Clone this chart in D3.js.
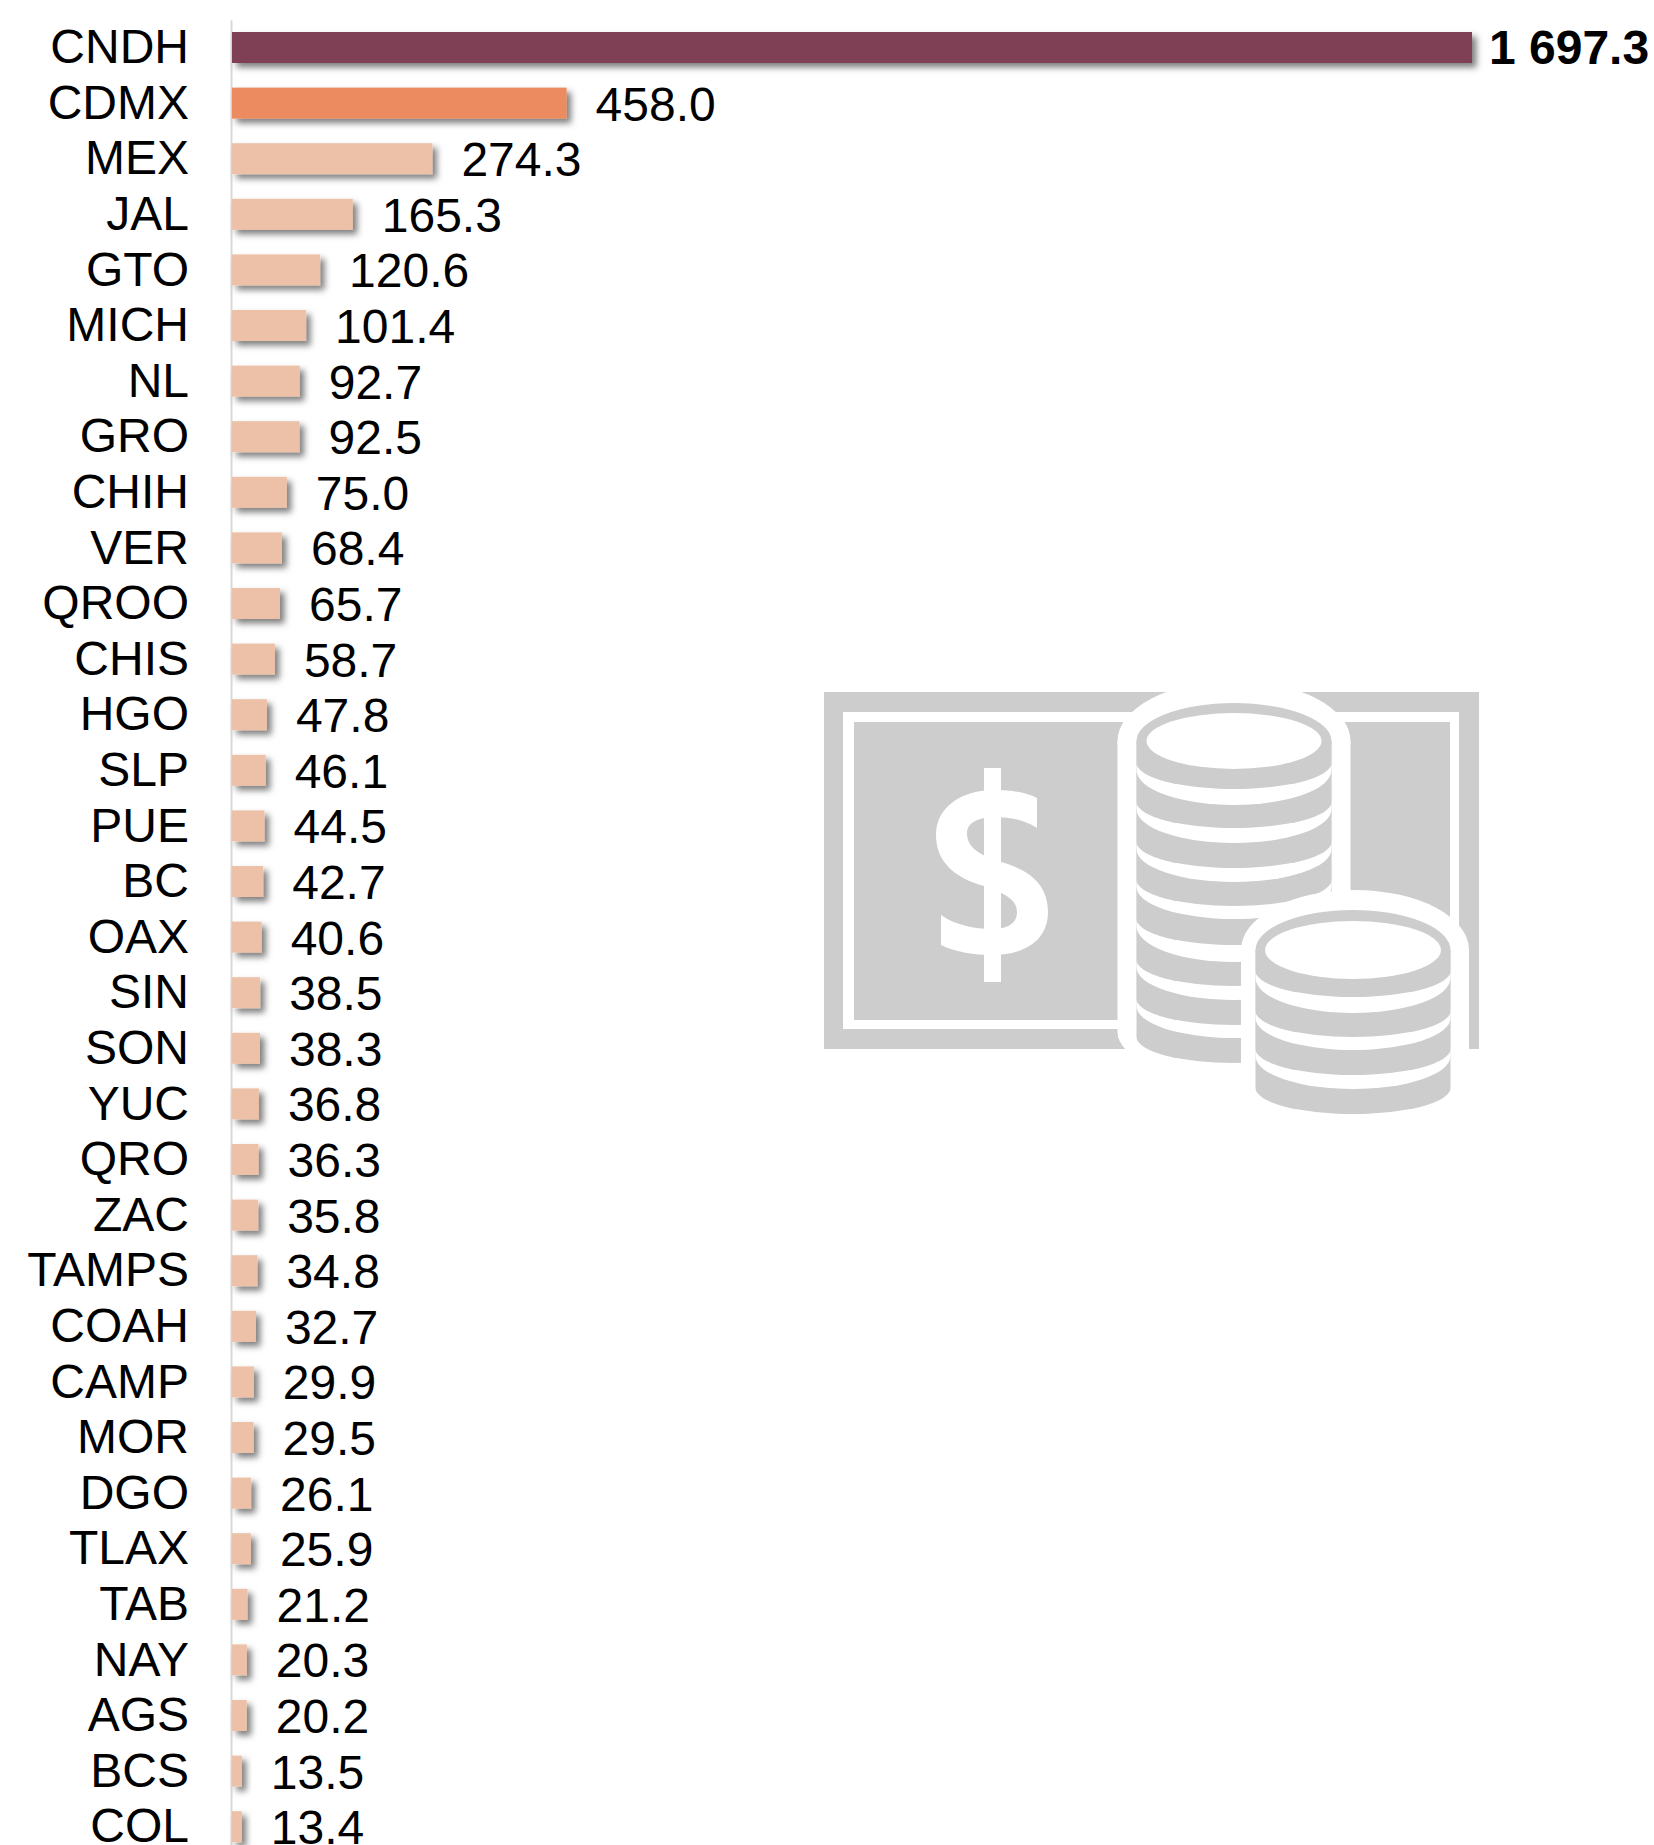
<!DOCTYPE html>
<html>
<head>
<meta charset="utf-8">
<script src="https://cdnjs.cloudflare.com/ajax/libs/d3/7.8.5/d3.min.js"></script>
<style>
html,body{margin:0;padding:0;background:#fff;overflow:hidden}
svg{display:block}
text{font-family:"Liberation Sans",Arial,sans-serif;fill:#000}
</style>
</head>
<body>
<svg id="chart" width="1654" height="1845"></svg>
<script>
const categories = ["CNDH","CDMX","MEX","JAL","GTO","MICH","NL","GRO","CHIH","VER","QROO","CHIS","HGO","SLP","PUE","BC","OAX","SIN","SON","YUC","QRO","ZAC","TAMPS","COAH","CAMP","MOR","DGO","TLAX","TAB","NAY","AGS","BCS","COL"];
const values = [1697.3,458.0,274.3,165.3,120.6,101.4,92.7,92.5,75.0,68.4,65.7,58.7,47.8,46.1,44.5,42.7,40.6,38.5,38.3,36.8,36.3,35.8,34.8,32.7,29.9,29.5,26.1,25.9,21.2,20.3,20.2,13.5,13.4];

const svg = d3.select("#chart");
const defs = svg.append("defs");
defs.append("filter").attr("id","shadow")
  .attr("x","-100%").attr("y","-60%").attr("width","300%").attr("height","220%")
  .append("feDropShadow")
  .attr("dx",4.5).attr("dy",4.5).attr("stdDeviation",3.2)
  .attr("flood-color","#000").attr("flood-opacity",0.5);

const step = 55.6, band = 31, pad = 1 - band/step;
const top0 = 47.5 - step/2;
const x = d3.scaleLinear().domain([0, d3.max(values)]).range([232, 1472]);
const y = d3.scaleBand().domain(categories)
  .range([top0, top0 + step*categories.length])
  .paddingInner(pad).paddingOuter(pad/2);
const fmt = d3.formatLocale({decimal:".",thousands:" ",grouping:[3],currency:["",""]}).format(",.1f");
const colour = i => i===0 ? "#7f3f54" : i===1 ? "#eb8b5f" : "#edc1a7";

/* icon */
const icon = svg.append("g").attr("class","icon");
const GREY = "#cdcdcd", WHITE = "#ffffff";
function cyl(cx, rx, top, edge, ryB){
  return `M${cx-rx},${top}L${cx-rx},${edge}A${rx},${ryB} 0 0 0 ${cx+rx},${edge}L${cx+rx},${top}Z`;
}
icon.append("rect").attr("x",824).attr("y",692).attr("width",655).attr("height",357).attr("fill",GREY);
icon.append("rect").attr("x",843).attr("y",712).attr("width",616).attr("height",317).attr("fill",WHITE);
icon.append("rect").attr("x",854).attr("y",722).attr("width",596).attr("height",298).attr("fill",GREY);
// dollar sign
icon.append("rect").attr("x",984).attr("y",768).attr("width",17).attr("height",214).attr("fill",WHITE);
icon.append("path")
  .attr("d","M1037,798C1025,792 1010,790 995,790C960,790 936,808 936,835C936,862 955,878 984,886C1005,893 1017,900 1017,912C1017,925 1005,929 992,929C975,929 955,925 941,915L941,945C955,952 975,955 992,955C1025,955 1048,940 1048,912C1048,885 1030,870 1001,862C980,855 967,848 967,833C967,822 980,817 995,817C1010,817 1025,820 1037,828Z")
  .attr("fill",WHITE);

function stack(cx, cy, rx, capRy, holeRx, holeRy, bottoms, halo){
  // halo
  icon.append("ellipse").attr("cx",halo.cx).attr("cy",cy).attr("rx",halo.rx).attr("ry",halo.ryTop).attr("fill",WHITE);
  icon.append("path").attr("d",cyl(halo.cx,halo.rx,cy,halo.edge,halo.ryBottom)).attr("fill",WHITE);
  // cylinders from bottom to top
  for(let i=bottoms.length-1;i>=0;i--){
    const isGrey = i%2===0;
    const pairGrey = isGrey ? bottoms[i] : bottoms[i-1];
    const edge = pairGrey - 26 + (isGrey ? 0 : 7);
    icon.append("path").attr("d",cyl(cx,rx,cy,edge,bottoms[i]-edge))
      .attr("fill",isGrey?GREY:WHITE);
  }
  icon.append("ellipse").attr("cx",cx).attr("cy",cy).attr("rx",rx).attr("ry",capRy).attr("fill",GREY);
  icon.append("ellipse").attr("cx",cx).attr("cy",cy).attr("rx",holeRx).attr("ry",holeRy).attr("fill",WHITE);
}
stack(1234,741,97.5,38,87.5,28,
  [789,805,828,843,868,882,906,919,945,962,986,1000,1025,1038,1063],
  {cx:1234,rx:116.5,ryTop:60,edge:1032,ryBottom:48});
stack(1353,950,97.5,40,88,29,
  [997,1013,1037,1050,1075,1089,1114],
  {cx:1355,rx:114,ryTop:60,edge:1100,ryBottom:48});

/* axis */
const axis = d3.axisLeft(y).tickSize(0).tickPadding(42);
const gAxis = svg.append("g").attr("transform","translate(231,0)").call(axis);
gAxis.select(".domain").attr("stroke","#d9d9d9").attr("stroke-width",2).attr("fill","none");
gAxis.selectAll("text").attr("font-size",48).attr("dy","0.325em")
  .attr("font-family",'"Liberation Sans",Arial,sans-serif').attr("fill","#000");

/* bars */
const data = categories.map((c,i)=>({c, v:values[i], i}));
svg.append("g").selectAll("rect").data(data).join("rect")
  .attr("x",x(0))
  .attr("y",d=>y(d.c))
  .attr("width",d=>x(d.v)-x(0))
  .attr("height",y.bandwidth())
  .attr("fill",d=>colour(d.i))
  .attr("filter","url(#shadow)");

/* value labels */
svg.append("g").selectAll("text").data(data).join("text")
  .attr("x",d=>x(d.v)+(d.i===0?17:29))
  .attr("y",d=>y(d.c)+y.bandwidth()/2+(d.i===0?16.5:17.5))
  .attr("font-size",48)
  .attr("font-weight",d=>d.i===0?"bold":"normal")
  .text(d=>fmt(d.v));
</script>
</body>
</html>
